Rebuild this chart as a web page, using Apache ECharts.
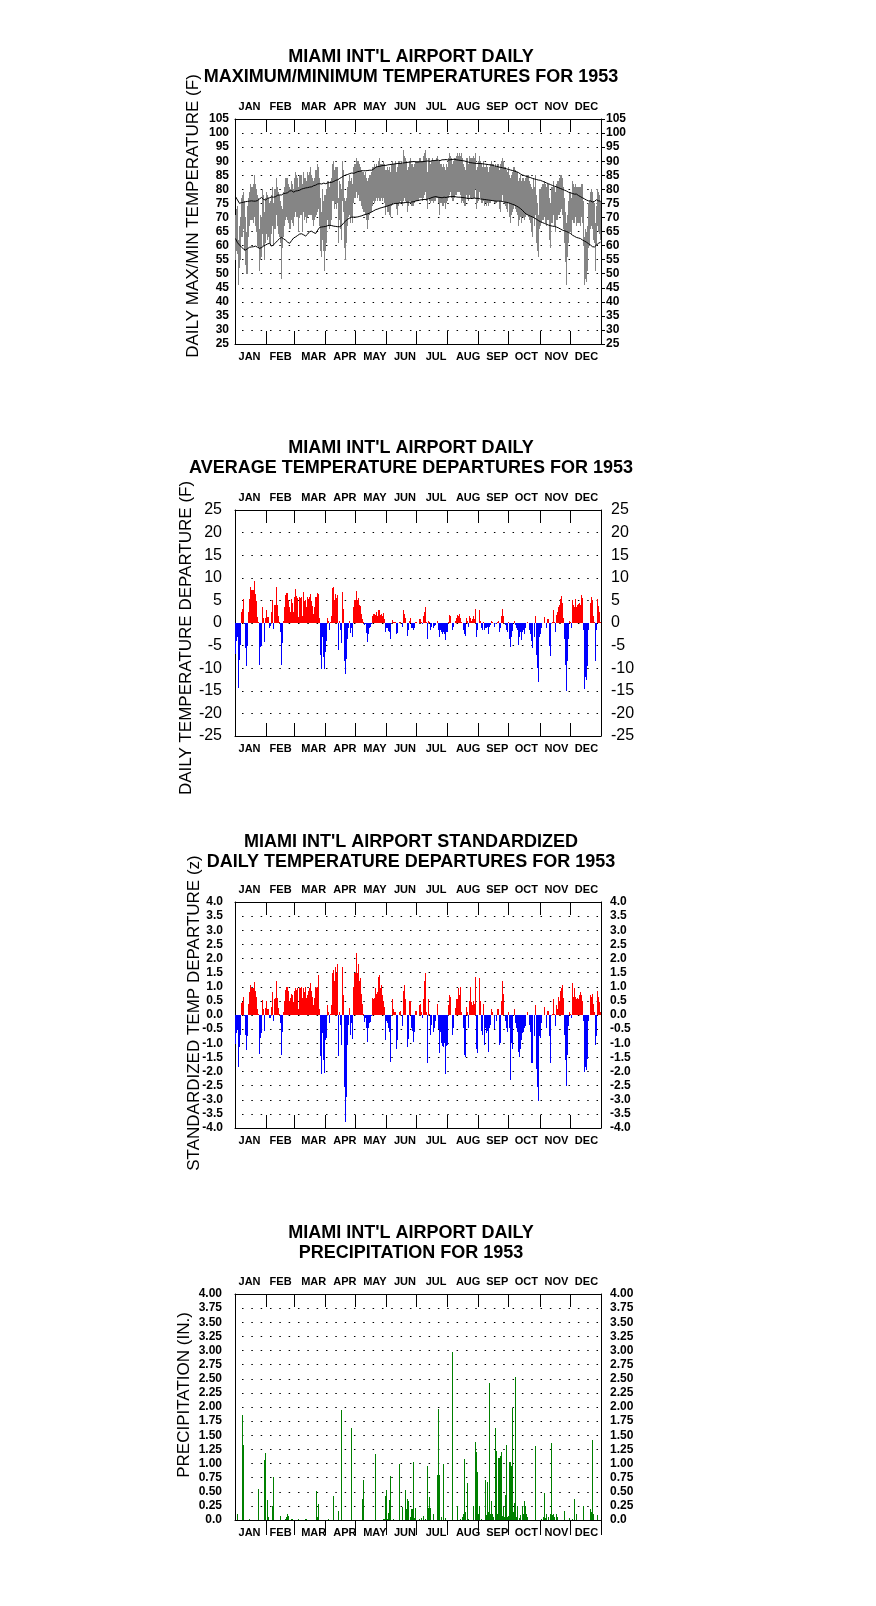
<!DOCTYPE html>
<html><head><meta charset="utf-8">
<script src="https://cdn.jsdelivr.net/npm/echarts@6/dist/echarts.min.js"></script>
<style>html,body{margin:0;padding:0;background:#fff}#c{width:876px;height:1606px}</style>
</head><body><div id="c"></div>
<script>
const MONTHS = ['JAN','FEB','MAR','APR','MAY','JUN','JUL','AUG','SEP','OCT','NOV','DEC'];
const MONTH_DAYS = [31,28,31,30,31,30,31,31,30,31,30,31];
const LABEL_DAYS = [14,45,78,109,139,169,200,232,261,290,320,350];

const TMAX = [
71,73,74,62,67,70,77,78,79,76,70,65,74,77,79,82,81,81,82,85,82,80,78,77,66,71,70,80,78,72,77,
79,78,77,75,76,78,81,75,80,80,84,81,79,78,76,74,73,79,81,84,84,84,82,81,80,83,82,80,
84,86,85,84,81,85,85,85,82,86,84,84,83,86,85,86,88,85,84,83,84,87,87,89,88,84,77,72,80,76,78,
78,80,83,83,81,83,84,89,90,87,88,88,88,77,83,82,80,90,87,77,76,77,81,83,85,83,84,82,88,89,
89,91,90,90,89,88,87,86,86,85,86,84,83,84,85,85,86,88,88,89,88,89,88,90,91,89,89,89,90,89,87,
87,88,87,88,86,89,90,89,89,90,86,88,90,90,89,90,89,94,92,91,90,87,88,90,91,89,89,88,89,90,
90,90,91,91,90,90,92,93,94,91,86,91,91,89,90,91,90,90,90,91,92,90,90,89,89,88,89,88,87,89,88,
91,93,92,91,89,90,91,91,92,93,92,93,92,93,91,89,88,87,91,91,89,92,91,91,91,92,91,93,87,88,90,
92,90,89,88,90,88,88,89,88,86,88,89,90,89,89,88,89,88,89,89,87,89,90,91,90,88,88,87,86,88,
85,84,85,86,88,88,87,86,86,83,84,85,83,84,84,83,84,85,85,85,83,82,81,80,84,81,85,78,75,71,80,
80,81,82,82,83,82,81,82,82,77,75,81,81,83,81,79,82,83,83,84,85,85,84,81,77,72,68,71,76,79,
79,77,83,82,81,82,81,81,81,81,81,82,82,76,63,66,65,67,75,76,79,80,79,76,75,68,74,80,79,78,76];

const TMIN = [
55,58,57,46,52,55,63,63,66,58,53,50,50,63,67,69,69,69,68,70,67,65,60,59,51,55,56,64,60,55,61,
64,62,63,61,60,64,67,60,66,66,71,67,64,63,61,48,59,63,67,69,70,69,68,66,66,69,68,67,
70,72,70,70,65,70,71,71,65,72,69,70,68,70,71,71,71,71,69,67,69,70,71,72,73,67,58,56,62,58,51,
58,61,69,67,66,67,69,76,76,73,75,73,75,61,69,66,62,76,72,59,55,61,67,70,71,68,70,68,75,77,
77,79,77,78,76,76,74,73,72,72,71,69,66,69,71,72,72,74,76,75,76,77,76,77,76,76,77,76,77,75,71,
74,72,72,71,70,74,75,75,75,75,73,71,74,75,76,75,74,76,77,76,75,72,74,76,76,74,74,74,75,76,
76,76,77,77,77,76,77,78,79,76,73,77,76,75,76,76,75,76,76,77,77,75,71,75,75,74,74,75,73,75,76,
77,78,79,77,76,76,77,78,78,79,79,79,78,75,76,75,74,74,78,77,76,78,77,77,77,77,77,80,73,75,76,
79,77,75,75,76,74,75,74,75,74,75,75,76,76,76,75,75,75,76,76,73,72,76,78,76,75,74,73,72,75,
70,68,71,72,73,74,73,72,71,67,69,70,68,70,70,69,70,71,71,70,69,68,65,63,70,67,71,61,58,56,66,
67,68,69,69,70,68,67,69,69,62,59,68,68,71,67,65,69,69,71,71,72,73,71,66,61,54,46,56,61,65,
65,64,69,68,68,70,67,68,68,68,67,70,68,60,46,48,47,51,59,60,66,67,66,62,61,51,60,67,65,64,62];

const NORM_MAX = [
77.4,76.8,76.2,75.6,75.0,75.1,75.3,75.2,75.4,75.2,75.6,75.5,75.7,75.5,75.8,75.6,75.9,75.6,75.8,76.0,75.8,76.2,76.0,76.4,76.6,76.9,77.1,76.8,76.4,76.0,76.2,
76.5,76.8,76.6,77.0,76.8,77.3,77.4,77.2,77.5,77.4,77.6,77.9,77.7,78.0,78.2,78.0,78.3,78.5,78.4,78.6,78.5,78.8,79.0,79.4,79.7,79.5,79.2,79.0,
79.1,79.4,79.7,79.5,79.8,79.7,79.9,80.1,80.0,80.3,80.2,80.5,80.4,80.6,80.5,80.8,81.0,80.9,81.1,81.3,81.2,81.5,81.7,81.9,81.8,82.0,82.1,81.9,82.1,82.2,82.1,
82.0,82.2,82.3,82.1,82.4,82.3,82.5,82.6,82.8,83.0,83.2,83.5,83.4,83.7,83.9,84.1,84.3,84.6,84.8,85.0,85.1,85.0,85.3,85.4,85.6,85.5,85.8,85.9,85.7,85.9,
86.0,86.1,86.3,86.2,86.4,86.5,86.6,86.5,86.6,86.7,86.6,86.8,86.7,86.8,86.8,86.9,86.8,87.0,87.3,87.6,87.9,88.0,88.1,88.3,88.2,88.3,88.4,88.3,88.5,88.6,88.5,
88.6,88.7,88.6,88.8,88.7,88.9,88.8,89.0,88.9,89.1,89.0,89.2,89.3,89.2,89.4,89.3,89.5,89.4,89.6,89.5,89.7,89.6,89.8,89.7,89.6,89.8,89.7,89.9,89.8,89.7,
89.8,89.7,89.9,89.8,89.9,89.8,89.7,89.9,89.8,90.0,89.9,90.1,90.0,89.9,90.1,90.2,90.0,90.2,90.1,90.3,90.2,90.4,90.3,90.2,90.4,90.5,90.3,90.5,90.4,90.6,90.5,
90.4,90.6,90.5,90.7,90.6,90.5,90.7,90.6,90.5,90.6,90.4,90.5,90.3,90.4,90.2,90.3,90.1,90.0,89.9,89.8,89.7,89.6,89.5,89.6,89.4,89.5,89.3,89.4,89.2,89.3,89.2,
89.1,89.2,89.0,89.1,88.9,89.0,88.8,88.9,88.7,88.8,88.6,88.7,88.5,88.6,88.4,88.3,88.4,88.2,88.1,88.0,87.9,87.8,87.9,87.7,87.6,87.5,87.4,87.3,87.2,87.1,
87.0,86.9,86.8,86.7,86.6,86.5,86.4,86.3,86.2,86.0,85.8,85.5,85.3,85.1,85.0,84.9,84.8,84.6,84.5,84.4,84.3,84.2,84.0,83.9,83.8,83.7,83.6,83.5,83.4,83.3,83.3,
83.2,83.0,82.9,82.7,82.6,82.4,82.3,82.1,82.0,81.9,81.7,81.6,81.4,81.3,81.1,81.0,80.9,80.7,80.6,80.4,80.3,80.1,80.0,79.8,79.7,79.6,79.4,79.2,79.0,78.9,
78.8,78.6,78.5,78.6,78.3,78.2,78.3,78.0,77.8,77.6,77.4,77.2,77.0,76.8,76.6,76.4,76.2,76.0,75.9,75.8,75.9,75.6,75.5,75.4,75.7,76.1,76.3,76.1,75.9,76.0,75.8];

const NORM_MIN = [
62.5,61.8,61.0,60.6,60.2,59.8,59.4,59.0,58.8,58.6,58.4,58.6,58.9,59.2,59.4,59.6,59.5,59.7,59.6,59.8,59.8,59.6,59.4,59.2,59.0,59.0,59.3,59.6,59.8,60.0,60.2,
60.4,60.6,60.8,60.8,60.3,59.8,59.9,60.3,60.7,61.0,61.4,61.8,62.1,62.5,62.7,62.9,62.6,62.4,62.2,61.9,61.6,61.2,60.9,60.8,61.3,61.8,62.3,62.7,
63.0,63.1,63.4,63.6,63.9,64.1,64.3,64.2,64.0,63.8,63.6,63.4,63.7,64.1,64.6,65.0,65.3,65.1,64.8,64.6,64.4,64.3,64.9,65.5,66.0,66.5,66.4,66.6,66.8,66.7,66.9,
66.8,67.0,67.1,67.3,67.2,67.3,67.1,67.0,66.9,66.8,66.8,66.7,66.7,66.6,66.7,66.7,67.2,67.7,68.1,68.5,68.8,69.1,69.4,69.7,69.8,70.0,70.1,70.0,70.1,70.1,
70.1,70.2,70.2,70.3,70.4,70.5,70.6,70.8,70.9,71.0,71.1,71.2,71.3,71.4,71.6,71.8,72.0,72.2,72.4,72.6,72.8,72.9,73.0,73.1,73.3,73.4,73.5,73.6,73.7,73.8,73.9,
74.0,74.1,74.3,74.4,74.5,74.6,74.8,74.9,75.0,75.0,75.1,75.0,75.1,75.2,75.1,75.2,75.3,75.2,75.3,75.4,75.3,75.4,75.5,75.4,75.6,75.5,75.7,75.6,75.8,75.9,
76.0,76.0,76.1,76.2,76.1,76.3,76.2,76.4,76.3,76.4,76.5,76.6,76.7,76.8,77.0,77.1,77.2,77.3,77.2,77.4,77.3,77.2,77.3,77.1,77.2,77.0,77.1,77.2,77.0,77.1,77.2,
77.3,77.2,77.4,77.3,77.4,77.3,77.5,77.4,77.3,77.4,77.2,77.1,77.2,77.0,77.1,76.9,77.0,76.8,76.9,76.8,76.7,76.9,76.8,76.9,76.7,76.8,76.9,76.7,76.8,76.7,76.8,
76.7,76.6,76.7,76.5,76.6,76.4,76.5,76.3,76.4,76.2,76.3,76.1,76.2,76.0,76.1,75.9,76.0,75.8,75.9,75.8,75.7,75.8,75.6,75.7,75.6,75.5,75.6,75.4,75.3,75.2,
75.1,75.0,74.9,74.7,74.6,74.5,74.3,74.1,73.9,73.7,73.5,73.2,72.9,72.6,72.2,71.8,71.5,71.2,70.9,70.8,70.6,70.5,70.4,70.2,70.0,69.8,69.6,69.4,69.1,68.9,68.7,
68.5,68.3,68.2,68.1,67.9,67.8,67.6,67.5,67.3,67.2,67.1,67.0,66.9,66.9,66.8,66.7,66.6,66.5,66.3,66.1,65.9,65.7,65.5,65.4,65.3,65.2,65.0,64.9,64.7,64.5,
64.3,64.0,63.7,63.5,63.3,63.1,62.9,62.8,62.7,62.6,62.5,62.3,62.0,61.8,61.6,61.4,61.2,61.0,60.7,60.4,60.2,59.9,59.6,59.3,59.5,59.8,60.2,60.5,60.8,61.0,61.2];

const DEP = [
-6.8,-4.0,-3.0,-14.3,-8.2,-4.8,2.5,3.2,5.3,-0.2,-5.5,-9.5,-5.0,2.5,5.3,8.0,7.3,7.2,7.3,9.4,6.5,4.8,1.4,0.3,-9.3,-5.2,-5.0,3.6,1.2,-4.2,1.0,
2.9,1.3,1.3,-1.0,-0.7,2.5,5.1,-1.3,3.9,3.9,8.0,3.9,1.5,0.3,-2.0,-9.3,-4.5,0.5,3.5,6.3,6.7,6.7,5.0,3.5,2.5,5.3,4.5,2.5,
5.7,7.6,6.0,5.5,1.3,5.7,5.6,5.8,1.5,6.8,4.8,5.0,3.5,5.8,5.2,5.8,6.5,4.8,3.7,2.0,3.5,5.8,5.8,6.7,6.5,1.2,-7.0,-10.2,-3.2,-7.5,-10.1,
-6.5,-4.0,1.2,0.5,-1.5,0.3,1.5,7.7,8.0,5.0,6.5,5.5,6.3,-6.0,0.5,-1.5,-4.5,6.8,3.0,-8.5,-11.3,-8.0,-3.5,-1.2,0.5,-2.3,-1.0,-3.0,3.5,5.0,
5.0,7.0,5.0,5.5,4.0,3.7,2.0,0.8,0.2,-0.5,-0.3,-2.3,-4.2,-2.5,-1.2,-0.8,-0.3,1.5,2.0,2.0,1.8,2.5,1.5,2.8,2.8,1.8,2.0,1.5,2.3,0.8,-2.0,
-1.0,-1.2,-1.8,-2.0,-3.5,0.0,0.7,0.3,0.2,0.2,-2.5,-2.3,0.0,0.3,0.3,0.0,-0.8,2.8,2.0,1.0,0.0,-2.8,-1.5,0.5,1.0,-1.0,-1.0,-1.5,-1.0,0.3,
0.3,0.0,0.8,0.8,0.3,-0.3,1.5,2.5,3.5,0.3,-3.5,0.5,0.2,-1.5,-0.8,0.0,-1.0,-0.7,-0.5,0.0,0.5,-1.5,-3.2,-1.5,-2.0,-2.5,-2.0,-2.5,-3.8,-2.0,-2.0,
0.3,1.8,1.5,0.0,-1.5,-0.8,0.0,0.5,1.2,1.8,1.5,2.0,1.0,0.2,0.0,-1.5,-2.5,-2.8,1.0,0.5,-0.8,1.5,1.0,0.5,0.8,1.5,0.8,3.2,-3.0,-1.5,0.0,
2.8,0.5,-1.0,-1.5,0.3,-1.5,-1.0,-1.0,-0.8,-2.5,-0.8,-0.5,0.5,0.3,0.0,-0.8,0.0,-0.3,0.3,0.5,-2.0,-1.2,1.5,3.0,1.5,0.0,-0.5,-1.5,-2.0,0.3,
-3.5,-5.2,-3.0,-1.8,0.0,0.5,-0.5,-1.0,-1.5,-4.8,-3.0,-2.0,-3.8,-2.0,-1.5,-2.5,-1.0,0.0,0.3,0.0,-1.5,-2.5,-4.0,-5.5,0.0,-3.0,1.5,-7.0,-10.0,-13.0,-3.0,
-2.5,-1.0,0.0,0.0,1.4,0.0,-1.0,0.8,0.8,-5.0,-7.4,0.0,0.3,2.8,0.3,-2.0,1.8,2.5,3.5,4.0,5.3,6.0,4.5,1.0,-3.5,-9.2,-15.0,-8.5,-3.5,0.5,
0.3,-1.0,5.0,4.0,3.5,5.2,3.5,4.0,4.3,4.5,4.0,6.2,5.5,-1.5,-14.5,-12.0,-12.5,-9.5,-1.5,0.0,4.5,5.8,5.0,1.5,0.3,-8.5,-1.5,5.3,3.8,2.5,0.3];

const ZDEP = [
-1.03,-0.65,-0.53,-1.85,-1.15,-0.7,0.44,0.47,0.63,-0.03,-0.7,-1.25,-0.75,0.38,0.8,1.05,0.95,0.95,0.95,1.16,0.85,0.62,0.2,0.05,-1.38,-0.8,-0.65,0.53,0.2,-0.58,0.25,
0.48,0.2,0.2,-0.12,-0.1,0.3,0.8,-0.2,0.55,0.6,1.2,0.6,0.25,0.05,-0.3,-1.4,-0.6,0.1,0.5,0.9,1.0,1.0,0.85,0.5,0.6,0.75,0.7,0.45,
0.85,0.95,0.9,0.95,0.2,0.95,0.95,1.0,0.6,0.95,0.8,1.0,0.6,0.7,0.85,0.95,1.15,0.85,0.65,0.35,0.6,1.0,0.95,1.0,1.4,0.2,-1.45,-2.1,-0.65,-1.6,-2.05,
-0.9,-0.8,0.35,0.1,-0.3,0.05,0.35,1.5,1.6,1.2,1.7,1.5,1.8,-1.45,0.1,-0.35,-1.05,1.7,0.7,-2.55,-3.8,-2.9,-1.05,-0.35,0.25,-0.7,-0.3,-0.85,1.0,1.5,
1.5,2.2,1.5,1.8,1.2,1.3,0.75,0.4,0.05,-0.25,-0.1,-0.45,-0.95,-0.45,-0.3,-0.25,-0.05,0.6,0.55,0.6,0.95,0.75,0.8,1.35,1.4,0.95,1.05,0.7,0.5,0.3,-0.9,
-0.2,-0.3,-0.45,-0.6,-1.65,0.0,0.55,0.2,0.1,0.1,-1.2,-0.9,0.0,0.1,0.15,0.0,-0.4,0.85,1.05,0.55,0.0,-1.15,-0.85,0.5,0.5,-0.45,-0.55,-0.95,-0.6,0.15,
0.15,0.0,0.35,0.4,0.1,-0.1,0.55,1.2,1.5,0.1,-1.7,0.55,0.05,-0.7,-0.35,0.0,-0.6,-0.45,-0.2,0.0,0.4,-0.5,-1.35,-0.6,-1.0,-1.1,-1.15,-1.0,-2.1,-1.1,-1.05,
0.35,0.7,0.65,0.0,-0.7,-0.45,0.0,0.25,0.55,0.55,0.95,0.7,1.0,0.1,0.0,-0.45,-1.4,-1.5,0.3,0.1,-0.45,0.5,1.0,0.45,0.35,0.5,0.4,1.35,-1.2,-1.35,0.0,
1.3,0.5,-0.55,-0.7,0.4,-1.05,-0.45,-0.65,-0.55,-1.3,-0.45,-0.35,0.2,0.1,0.0,-0.5,0.0,-0.2,0.2,0.2,-1.05,-1.0,0.5,1.2,0.75,0.0,-0.2,-0.45,-0.6,0.1,
-0.45,-2.3,-1.0,-1.2,0.0,0.2,-0.3,-0.45,-0.6,-1.3,-1.5,-1.2,-0.9,-0.65,-0.6,-0.45,-0.4,0.0,0.1,0.0,-0.35,-0.6,-1.7,-1.7,0.0,-0.75,0.35,-1.9,-2.55,-3.05,-0.75,
-0.8,-0.3,0.0,0.0,0.3,0.0,-0.45,0.15,0.15,-0.75,-1.7,0.0,0.05,0.55,0.05,-0.4,0.35,0.2,0.65,0.5,0.85,0.95,1.05,0.6,-0.7,-1.6,-2.5,-1.4,-0.4,0.1,
0.05,-0.1,1.15,0.65,0.95,0.65,0.55,0.6,0.55,0.7,0.8,0.7,0.5,-0.2,-2.0,-1.85,-1.95,-1.55,-0.2,0.0,0.7,0.65,0.75,0.4,0.1,-1.05,-0.75,0.85,0.65,0.45,0.1];

const PRCP = [
0,0,0.1,0,0,0,0,1.86,1.32,0,0,0,0,0,0.02,0,0,0,0,0,0,0,0,0.55,0,0,0,0,0,1.07,1.19,
0,0.35,0.05,0,0,0,0.25,0.76,0,0,0,0,0,0,0.07,0,0,0,0,0.02,0.05,0.1,0.07,0,0,0.01,0.01,0,
0,0,0,0,0.01,0,0,0,0,0,0,0.01,0.01,0,0,0,0,0,0,0,0,0,0.51,0.05,0.28,0,0,0,0,0,0,
0,0,0,0.02,0,0,0,0,0.43,0,0,0,0,0.16,0,0,1.95,0,0,0,0,0,0,0,0,0,1.63,0,0,0,
0,0,0,0,0,0,0,0.37,0.7,0,0,0,0,0,0,0,0,0,0,0,1.17,0,0,0,0,0,0,0,0.02,0.02,0.42,
0.53,0.02,0.12,0.36,0.78,0,0,0.02,0,0,0,0,0,1.0,0,0,0.23,0,0,0.53,0.2,0.38,0.33,0,0.05,0.2,0.2,1.03,0.03,0.22,
0,0,0.02,0,0.03,0,0.07,0,0.02,0,0.96,0.22,0.4,0.22,0,0,0.1,0,0,0,0.8,1.97,0.8,0,0.05,0,1.0,0,0.03,0,0,
0,0,0,0,2.98,0,0,0,0,0.25,0,0,0.02,0,0.05,0.1,1.08,0.15,0,0.65,0.02,0,0,0,0,0.25,0,1.38,1.21,0.85,0.1,
0.25,0,0.02,0,0,0,0.7,0.08,0.67,0.15,2.42,0.1,0.33,0.1,0.05,0,1.62,1.23,0.1,1.1,1.1,1.14,1.2,0.07,0.23,0.05,0.45,1.33,0.05,0.07,
1.02,1.02,0.96,1.98,0.15,0.3,2.53,0.05,0.25,0,0.03,0.08,0,0.25,0.1,0.33,0.25,0.1,0.05,0,0,0,0,0,0,0,1.31,0,0,0,0,
0,0.02,0,0.05,0.48,0.03,0.1,0,0.05,0,0.1,1.37,0.08,0.1,0.05,0,0.1,0.05,0,0,0,0,0,0,0.16,0,0,0,0,0.03,
0,0,0.02,0,0.37,0,0.1,0,0,0,0,0,0,0.25,0,0,0,0,0,0,0.2,0.15,1.41,0.1,0,0,0,0.08,0,0,0];

const TITLES = [
  ["MIAMI INT'L AIRPORT DAILY", "MAXIMUM/MINIMUM TEMPERATURES FOR 1953"],
  ["MIAMI INT'L AIRPORT DAILY", "AVERAGE TEMPERATURE DEPARTURES FOR 1953"],
  ["MIAMI INT'L AIRPORT STANDARDIZED", "DAILY TEMPERATURE DEPARTURES FOR 1953"],
  ["MIAMI INT'L AIRPORT DAILY", "PRECIPITATION FOR 1953"]
];
const Y_NAMES = ["DAILY MAX/MIN TEMPERATURE (F)", "DAILY TEMPERATURE DEPARTURE (F)", "STANDARDIZED TEMP DEPARTURE (z)", "PRECIPITATION (IN.)"];

// ---------- layout ----------
const FONT = "'Liberation Sans', Arial, Helvetica, sans-serif";
const DAYS = []; { let n = 1; MONTH_DAYS.forEach(m => { for (let k = 0; k < m; k++) DAYS.push(String(n++)); }); }
const MONTH_START = new Set(); { let a = 0; MONTH_DAYS.forEach(m => { MONTH_START.add(a); a += m; }); }
const LABEL_SET = new Set(LABEL_DAYS);
const GRID_TOPS = [119, 510, 902, 1294];
const GRID_H = [225, 226, 226, 226];
const TITLE_Y = [57, 448, 842, 1233];
const NAME_POS = [[193, 216], [186.5, 638], [194, 1013], [184.5, 1395]];

function xAx(g, pos, inside, len) {
  return {
    type: 'category', gridIndex: g, position: pos, data: DAYS, boundaryGap: true,
    axisLine: { show: true, onZero: false, lineStyle: { color: '#000', width: 1 } },
    axisTick: { show: true, inside: inside, length: len, interval: (i) => i > 0 && MONTH_START.has(i), lineStyle: { color: '#000', width: 1 } },
    axisLabel: {
      show: true, interval: (i) => LABEL_SET.has(i),
      formatter: (v) => { const k = LABEL_DAYS.indexOf(Number(v) - 1); return k >= 0 ? MONTHS[k] : ''; },
      margin: 7, fontSize: 11, fontWeight: 'bold', color: '#000', fontFamily: FONT
    },
    splitLine: { show: false }
  };
}
function yAx(g, pos, c, isLeft) {
  return {
    type: 'value', gridIndex: g, position: pos, min: c.min, max: c.max, interval: c.interval,
    axisLine: { show: true, lineStyle: { color: '#000', width: 1 } },
    axisTick: { show: !isLeft && !!c.rtick, inside: false, length: 4, lineStyle: { color: '#000' } },
    axisLabel: {
      show: true, margin: isLeft ? c.lm : c.rm, fontSize: c.fs, fontWeight: c.fw, color: '#000', fontFamily: FONT,
      formatter: c.fmt, showMinLabel: true, showMaxLabel: true
    },
    splitLine: { show: isLeft, lineStyle: { color: '#000', width: 1, type: [1.5, 7.83], dashOffset: 2.33 } }
  };
}
const YC = [
  { min: 25, max: 105, interval: 5, fs: 12, fw: 'bold', lm: 6, rm: 5, rtick: true, fmt: (v) => String(v) },
  { min: -25, max: 25, interval: 5, fs: 16, fw: 'normal', lm: 13, rm: 10, fmt: (v) => String(v) },
  { min: -4, max: 4, interval: 0.5, fs: 12, fw: 'bold', lm: 12, rm: 9, fmt: (v) => v.toFixed(1) },
  { min: 0, max: 4, interval: 0.25, fs: 12, fw: 'bold', lm: 13, rm: 9, fmt: (v) => v === 0 ? '0.0' : v.toFixed(2) }
];

const grids = [], xAxes = [], yAxes = [];
for (let g = 0; g < 4; g++) {
  grids.push({ left: 235, top: GRID_TOPS[g], width: 366, height: GRID_H[g], containLabel: false });
  xAxes.push(xAx(g, 'bottom', g < 3, g < 3 ? 13 : 15));
  xAxes.push(xAx(g, 'top', true, 13));
  yAxes.push(yAx(g, 'left', YC[g], true));
  yAxes.push(yAx(g, 'right', YC[g], false));
}

// pixel-snapped rectangles drawn from data through the axis scales
function rectItem(fillFn, fixedWidth) {
  return function (params, api) {
    const i = api.value(0), lo = api.value(1), hi = api.value(2);
    const bw = api.size([1, 0])[0];
    const a = api.coord([i, lo]), b = api.coord([i, hi]);
    let x0, x1;
    if (fixedWidth) { x0 = Math.round(a[0] - fixedWidth / 2); x1 = x0 + fixedWidth; }
    else { x0 = Math.round(a[0] - bw / 2); x1 = Math.round(a[0] + bw / 2); if (x1 <= x0) x1 = x0 + 1; }
    const y0 = Math.round(Math.min(a[1], b[1])), y1 = Math.round(Math.max(a[1], b[1]));
    if (y1 <= y0) return null;
    return { type: 'rect', shape: { x: x0, y: y0, width: x1 - x0, height: y1 - y0 }, style: { fill: fillFn(hi, lo) } };
  };
}
const bandData = TMAX.map((v, i) => [i, TMIN[i], v]);
const depData = DEP.map((v, i) => [i, 0, v]);
const zData = ZDEP.map((v, i) => [i, 0, v]);
const prData = PRCP.map((v, i) => [i, 0, v]);
const sign = (hi) => hi >= 0 ? '#ff0000' : '#0000ff';

const series = [
  { type: 'custom', xAxisIndex: 0, yAxisIndex: 0, data: bandData, encode: { x: 0, y: [1, 2] }, renderItem: rectItem(() => '#858585'), z: 2 },
  { type: 'line', xAxisIndex: 0, yAxisIndex: 0, data: NORM_MAX, symbol: 'none', lineStyle: { color: '#000', width: 1 }, z: 5 },
  { type: 'line', xAxisIndex: 0, yAxisIndex: 0, data: NORM_MIN, symbol: 'none', lineStyle: { color: '#000', width: 1 }, z: 5 },
  { type: 'custom', xAxisIndex: 2, yAxisIndex: 2, data: depData, encode: { x: 0, y: [1, 2] }, renderItem: rectItem(sign), z: 2 },
  { type: 'custom', xAxisIndex: 4, yAxisIndex: 4, data: zData, encode: { x: 0, y: [1, 2] }, renderItem: rectItem(sign), z: 2 },
  { type: 'custom', xAxisIndex: 6, yAxisIndex: 6, data: prData, encode: { x: 0, y: [1, 2] }, renderItem: rectItem(() => '#008000', 1), z: 2 }
];

const graphic = [];
TITLES.forEach((lines, g) => {
  lines.forEach((t, j) => graphic.push({
    type: 'text', x: 411, y: TITLE_Y[g] + j * 20,
    style: { text: t, font: 'bold 18px ' + FONT, fill: '#000', align: 'center', verticalAlign: 'middle', textAlign: 'center', textVerticalAlign: 'middle' }
  }));
});
Y_NAMES.forEach((t, g) => graphic.push({
  type: 'text', x: NAME_POS[g][0], y: NAME_POS[g][1], rotation: Math.PI / 2,
  style: { text: t, font: '17px ' + FONT, fill: '#000', align: 'center', verticalAlign: 'middle', textAlign: 'center', textVerticalAlign: 'middle' }
}));

const chart = echarts.init(document.getElementById('c'), null, { renderer: 'canvas' });
chart.setOption({
  animation: false, backgroundColor: '#fff',
  grid: grids, xAxis: xAxes, yAxis: yAxes, series: series, graphic: graphic
});
</script></body></html>
